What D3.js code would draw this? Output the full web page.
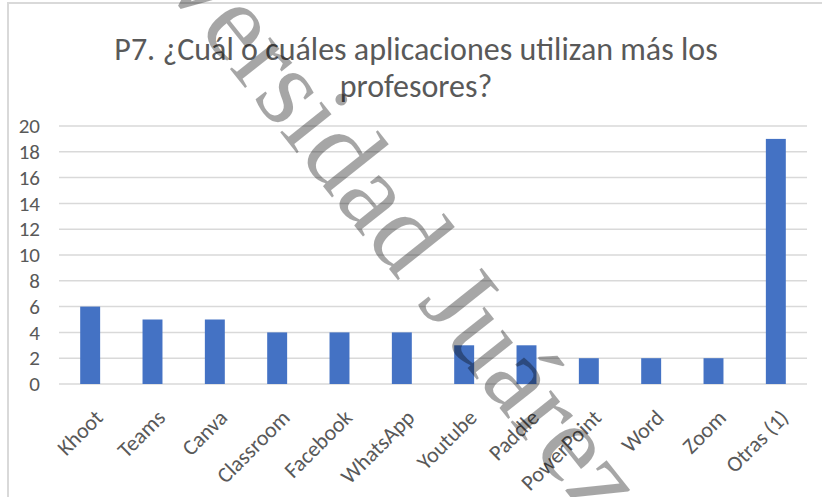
<!DOCTYPE html>
<html>
<head>
<meta charset="utf-8">
<script src="https://cdn.jsdelivr.net/npm/d3@7"></script>
<style>
  body { margin: 0; background: #fff; }
  svg { display: block; }
</style>
</head>
<body>
<div id="chart"></div>
<script>
var titleLines = ["P7. ¿Cuál o cuáles aplicaciones utilizan más los", "profesores?"];
var apps = ["Khoot", "Teams", "Canva", "Classroom", "Facebook", "WhatsApp", "Youtube", "Paddle", "PowerPoint", "Word", "Zoom", "Otras (1)"];
var counts = [6, 5, 5, 4, 4, 4, 3, 3, 2, 2, 2, 19];
var yTicks = [0, 2, 4, 6, 8, 10, 12, 14, 16, 18, 20];
var watermark = "Universidad Juárez del Estado de Durango";

var width = 822, height = 497;
var font = "Carlito, Lato, sans-serif";

var svg = d3.select("#chart").append("svg")
    .attr("width", width)
    .attr("height", height);

// chart frame (only the top and left edges show)
svg.append("path")
    .attr("d", "M8,497 V3 H822")
    .attr("fill", "none")
    .attr("stroke", "#d9d9d9")
    .attr("stroke-width", 2);

// title
var title = svg.append("text")
    .attr("text-anchor", "middle")
    .style("font-family", font)
    .style("font-size", "32px")
    .attr("fill", "#595959");
title.selectAll("tspan")
    .data(titleLines)
    .enter().append("tspan")
    .attr("x", 416)
    .attr("y", function(d, i) { return 60 + i * 37; })
    .text(function(d) { return d; });

var x = d3.scaleBand()
    .domain(apps)
    .range([59, 807])
    .paddingInner(0.68)
    .paddingOuter(0.34);

var y = d3.scaleLinear()
    .domain([0, 20])
    .range([384, 126]);

// gridlines
svg.append("g")
    .selectAll("line")
    .data(yTicks)
    .enter().append("line")
    .attr("x1", 59)
    .attr("x2", 807)
    .attr("y1", function(d) { return y(d); })
    .attr("y2", function(d) { return y(d); })
    .attr("stroke", "#d9d9d9")
    .attr("stroke-width", 1.5);

// y axis labels
var yAxis = svg.append("g")
    .attr("transform", "translate(47,0)")
    .call(d3.axisLeft(y).tickValues(yTicks).tickSize(0).tickPadding(7));
yAxis.select(".domain").remove();
yAxis.selectAll("text")
    .style("font-family", font)
    .style("font-size", "21px")
    .attr("fill", "#595959");

// bars
svg.append("g")
    .selectAll("rect")
    .data(counts)
    .enter().append("rect")
    .attr("x", function(d, i) { return x(apps[i]); })
    .attr("y", function(d) { return y(d); })
    .attr("width", x.bandwidth())
    .attr("height", function(d) { return y(0) - y(d); })
    .attr("fill", "#4472c4");

// x axis labels, rotated
var xAxis = svg.append("g")
    .attr("transform", "translate(0," + y(0) + ")")
    .call(d3.axisBottom(x).tickSize(0));
xAxis.select(".domain").remove();
xAxis.selectAll("text")
    .style("font-family", font)
    .style("font-size", "22px")
    .attr("fill", "#595959")
    .attr("text-anchor", "end")
    .attr("dy", null)
    .attr("y", 0)
    .attr("transform", "translate(14,35) rotate(-45)");

// watermark
svg.append("text")
    .attr("transform", "translate(58,-147) rotate(51.5)")
    .style("font-family", "'Liberation Serif', serif")
    .style("font-size", "112px")
    .attr("fill", "#000")
    .attr("fill-opacity", 0.35)
    .text(watermark);
</script>
</body>
</html>
